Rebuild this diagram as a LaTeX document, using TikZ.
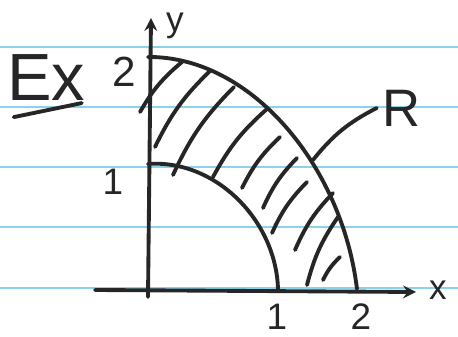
\documentclass[tikz,border=0pt]{standalone}
\usepackage{fontspec}
\setmainfont{Liberation Sans}
\definecolor{rulecol}{RGB}{140,210,235}
\begin{document}
\begin{tikzpicture}[
    x=0.02cm, y=-0.02cm,
    pen/.style={line width=2.2pt, line cap=round, line join=round, black!85},
    rule/.style={line width=1pt, rulecol},
    hand/.style={inner sep=0pt, text=black!85},
    >=stealth]
    \useasboundingbox (0,0) rectangle (458,337);
    % ruled paper
    \foreach \y in {47,107,167,227,288}
        \draw[rule] (0,\y) -- (458,\y);
    % axes
    \coordinate (O)     at (148,290);
    \coordinate (xbeg)  at (95,290);
    \coordinate (xend)  at (416,292);
    \coordinate (ybeg)  at (148,297);
    \coordinate (yend)  at (151,18);
    \draw[pen, ->] (xbeg) -- (xend);
    \draw[pen, ->] (ybeg) -- (yend);
    \node[hand, font=\fontsize{20}{20}\selectfont] (xname) at (438,290) {x};
    \node[hand, font=\fontsize{20}{20}\selectfont] (yname) at (175,26)  {y};
    % tick labels
    \node[hand, font=\fontsize{24}{24}\selectfont] (ytwo) at (124,72)  {2};
    \node[hand, font=\fontsize{21}{21}\selectfont] (yone) at (113,182) {1};
    \node[hand, font=\fontsize{21}{21}\selectfont] (xone) at (277,317) {1};
    \node[hand, font=\fontsize{21}{21}\selectfont] (xtwo) at (361,317) {2};
    % quarter circles
    \draw[pen] (148,57) .. controls (250,56) and (342,165) .. (357,289);
    \draw[pen] (148,164) .. controls (215,159) and (276,220) .. (278,289);
    % hatching
    \foreach \ax/\ay/\bx/\by in {140/112/182/62, 155/147/210/71, 173/175/234/87,
                                 213/177/267/109, 242/188/280/137, 263/208/297/158,
                                 272/233/307/182, 295/250/333/193, 307/285/338/217,
                                 323/280/340/257}
        \draw[pen] (\ax,\ay) to[bend left=10] (\bx,\by);
    % region label
    \node[hand, font=\fontsize{30}{30}\selectfont, anchor=west] (lblR) at (382,108) {R};
    \coordinate (rpt) at (313,160);
    \draw[pen] (rpt) to[bend left=12] ([xshift=-3pt]lblR.west);
    % example mark
    \node[hand, font=\fontsize{38}{38}\selectfont] (ex) at (46,78) {Ex};
    \draw[pen] ([xshift=4pt, yshift=-9pt]ex.south west) -- ([xshift=-2pt, yshift=-1pt]ex.south east);
\end{tikzpicture}
\end{document}
